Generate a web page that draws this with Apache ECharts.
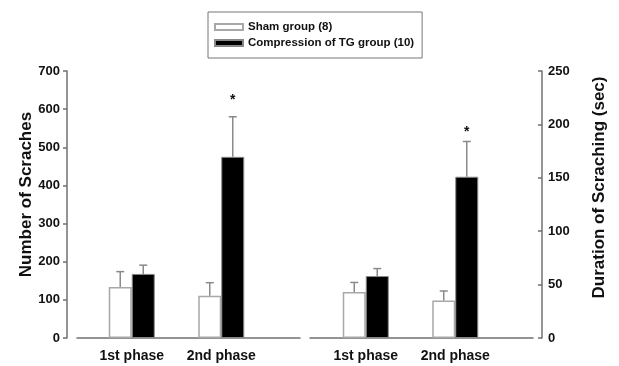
<!DOCTYPE html>
<html>
<head>
<meta charset="UTF-8">
<title>Scratching</title>
<script src="https://cdn.jsdelivr.net/npm/echarts@6/dist/echarts.min.js"></script>
<style>
    html, body { margin: 0; padding: 0; background: #fff; }
    #main { width: 619px; height: 366px; }
</style>
</head>
<body>
<div id="main"></div>
<script>
    // data
    var categories = ['1st phase', '2nd phase'];
    var seriesNames = ['Sham group (8)', 'Compression of TG group (10)'];

    var countSham = [134, 111];
    var countShamErr = [40, 34];
    var countTG = [168, 475];
    var countTGErr = [23, 105];
    var countStar = [null, 624];

    var durSham = [43, 35];
    var durShamErr = [9, 9];
    var durTG = [58, 151];
    var durTGErr = [7, 33];
    var durStar = [null, 193];

    var countTicks = {min: 0, max: 700, interval: 100};
    var durTicks = {min: 0, max: 250, interval: 50};

    var axisGray = '#707070';
    var txt = '#111';
    var font = 'Liberation Sans';
    var BAR_W = 23;

    var shamStyle = {color: '#fff', borderColor: '#a8a8a8', borderWidth: 1.5};
    var tgStyle = {color: '#000', borderColor: '#888', borderWidth: 1};

    function bar(name, data, ax, style) {
        return {
            name: name, type: 'bar', xAxisIndex: ax, yAxisIndex: ax,
            data: data, barWidth: BAR_W, barGap: '0%', itemStyle: style
        };
    }

    // error bar drawn up from the bar top, side = -1 left bar, +1 right bar
    function errBar(means, errs, ax, side) {
        return {
            type: 'custom', xAxisIndex: ax, yAxisIndex: ax, z: 5, silent: true,
            data: means.map(function (m, i) { return [i, m, errs[i]]; }),
            renderItem: function (params, api) {
                var base = api.coord([api.value(0), api.value(1)]);
                var top = api.coord([api.value(0), api.value(1) + api.value(2)]);
                var x = base[0] + side * BAR_W / 2;
                var st = {stroke: '#8a8a8a', lineWidth: 1.5};
                return {type: 'group', children: [
                    {type: 'line', shape: {x1: x, y1: base[1], x2: x, y2: top[1]}, style: st},
                    {type: 'line', shape: {x1: x - 4, y1: top[1], x2: x + 4, y2: top[1]}, style: st}
                ]};
            }
        };
    }

    function stars(vals, ax, side) {
        var d = [];
        vals.forEach(function (v, i) { if (v != null) d.push([i, v]); });
        return {
            type: 'custom', xAxisIndex: ax, yAxisIndex: ax, z: 6, silent: true,
            data: d,
            renderItem: function (params, api) {
                var p = api.coord([api.value(0), api.value(1)]);
                return {type: 'text', style: {
                    text: '*', x: p[0] + side * BAR_W / 2, y: p[1],
                    align: 'center', verticalAlign: 'middle',
                    font: 'bold 14px ' + font, fill: '#111'
                }};
            }
        };
    }

    function catAxis(grid) {
        return {
            type: 'category', gridIndex: grid, data: categories,
            axisLine: {show: false}, axisTick: {show: false},
            axisLabel: {interval: 0, color: txt, fontFamily: font, fontWeight: 'bold', fontSize: 14, margin: 11}
        };
    }
    function lineAxis(grid) {
        return {
            type: 'value', gridIndex: grid, min: 0, max: 1,
            axisLine: {show: true, onZero: false, lineStyle: {color: axisGray, width: 1.5}},
            axisTick: {show: false}, axisLabel: {show: false}, splitLine: {show: false}
        };
    }

    var chart = echarts.init(document.getElementById('main'));
    chart.setOption({
        animation: false,
        backgroundColor: '#fff',
        legend: {
            orient: 'vertical', left: 208, top: 12,
            padding: [9, 8, 9, 6], itemGap: 4,
            borderColor: '#777', borderWidth: 1,
            itemWidth: 28, itemHeight: 6, icon: 'rect',
            data: seriesNames,
            textStyle: {color: txt, fontFamily: font, fontWeight: 'bold', fontSize: 11.5}
        },
        grid: [
            {left: 87, width: 179, top: 71, bottom: 28},
            {left: 77, width: 223, top: 71, bottom: 28},
            {left: 321, width: 179, top: 71, bottom: 28},
            {left: 310, width: 223, top: 71, bottom: 28}
        ],
        xAxis: [catAxis(0), lineAxis(1), catAxis(2), lineAxis(3)],
        yAxis: [
            {type: 'value', gridIndex: 0, show: false, min: countTicks.min, max: countTicks.max},
            {
                type: 'value', gridIndex: 1, position: 'left', offset: 10,
                min: countTicks.min, max: countTicks.max, interval: countTicks.interval,
                name: 'Number of Scraches', nameLocation: 'middle', nameGap: 29,
                nameTextStyle: {color: txt, fontFamily: font, fontWeight: 'bold', fontSize: 17, padding: [0, 0, 0, 20]},
                axisLine: {show: true, onZero: false, lineStyle: {color: axisGray, width: 1.5}},
                axisTick: {show: true, length: 4, lineStyle: {color: axisGray, width: 1.5}},
                axisLabel: {color: txt, fontFamily: font, fontWeight: 'bold', fontSize: 13, margin: 7},
                splitLine: {show: false}
            },
            {type: 'value', gridIndex: 2, show: false, min: durTicks.min, max: durTicks.max},
            {
                type: 'value', gridIndex: 3, position: 'right', offset: 9,
                min: durTicks.min, max: durTicks.max, interval: durTicks.interval,
                name: 'Duration of Scraching (sec)', nameLocation: 'middle', nameGap: 49,
                nameTextStyle: {color: txt, fontFamily: font, fontWeight: 'bold', fontSize: 17, padding: [0, 0, 0, 34]},
                axisLine: {show: true, onZero: false, lineStyle: {color: axisGray, width: 1.5}},
                axisTick: {show: true, inside: true, length: 4, lineStyle: {color: axisGray, width: 1.5}},
                axisLabel: {color: txt, fontFamily: font, fontWeight: 'bold', fontSize: 13, margin: 6},
                splitLine: {show: false}
            }
        ],
        series: [
            bar(seriesNames[0], countSham, 0, shamStyle),
            bar(seriesNames[1], countTG, 0, tgStyle),
            errBar(countSham, countShamErr, 0, -1),
            errBar(countTG, countTGErr, 0, 1),
            stars(countStar, 0, 1),
            bar(seriesNames[0], durSham, 2, shamStyle),
            bar(seriesNames[1], durTG, 2, tgStyle),
            errBar(durSham, durShamErr, 2, -1),
            errBar(durTG, durTGErr, 2, 1),
            stars(durStar, 2, 1)
        ]
    });
</script>
</body>
</html>
